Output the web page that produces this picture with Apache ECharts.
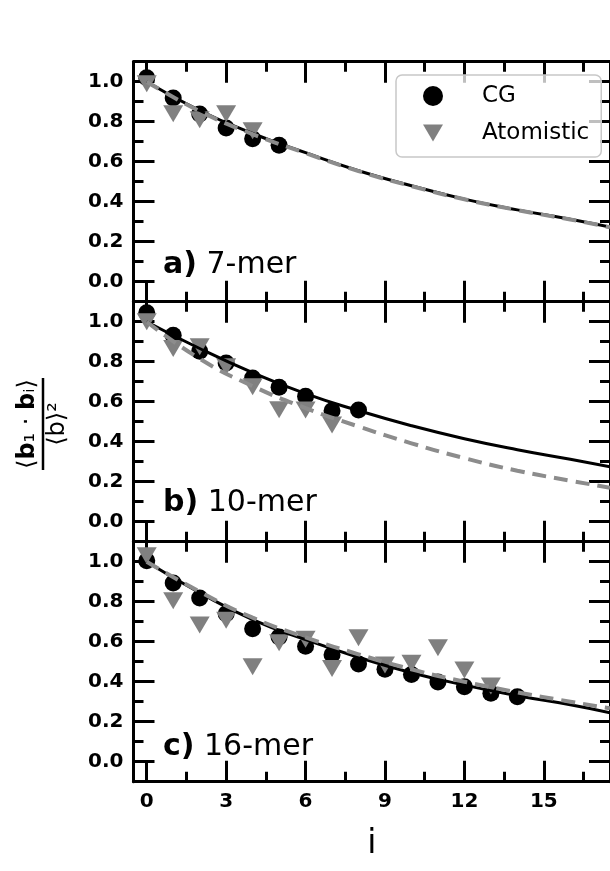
<!DOCTYPE html>
<html><head><meta charset="utf-8">
<script src="https://cdn.jsdelivr.net/npm/echarts@6/dist/echarts.min.js"></script>
<style>html,body{margin:0;padding:0;background:#fff}#c{width:610px;height:871px}</style>
</head><body><div id="c"></div>
<script>
// ---------- data ----------
const panelNames = ['7-mer', '10-mer', '16-mer'];
const panelTags = ['a)', 'b)', 'c)'];

const cg7 = [1.02, 0.918, 0.838, 0.768, 0.715, 0.682];
const at7 = [0.99, 0.84, 0.81, 0.84, 0.755];
const cg10 = [1.045, 0.932, 0.852, 0.793, 0.718, 0.672, 0.627, 0.555, 0.558];
const at10 = [1.0, 0.866, 0.875, 0.775, 0.675, 0.56, 0.558, 0.483];
const cg16 = [1.005, 0.893, 0.818, 0.74, 0.665, 0.624, 0.577, 0.535, 0.488, 0.462, 0.436, 0.398, 0.375, 0.342, 0.325];
const at16 = [1.03, 0.805, 0.683, 0.707, 0.475, 0.595, 0.612, 0.466, 0.62, 0.483, 0.492, 0.57, 0.458, 0.378];

const fitX = [0, 2, 4, 6, 8, 10, 12, 14, 16, 17.5];
const fit7CG = [1.0, 0.856, 0.741, 0.645, 0.555, 0.48, 0.413, 0.359, 0.312, 0.273];
const fit7AT = [1.0, 0.853, 0.738, 0.643, 0.553, 0.478, 0.412, 0.358, 0.311, 0.272];
const fit10CG = [1.0, 0.866, 0.745, 0.64, 0.555, 0.48, 0.415, 0.36, 0.312, 0.275];
const fit10AT = [1.0, 0.815, 0.678, 0.568, 0.476, 0.392, 0.318, 0.255, 0.205, 0.17];
const fit16CG = [1.0, 0.845, 0.71, 0.61, 0.522, 0.445, 0.383, 0.33, 0.285, 0.245];
const fit16AT = [1.0, 0.85, 0.72, 0.622, 0.537, 0.462, 0.40, 0.347, 0.30, 0.267];

const xTicks = [0, 3, 6, 9, 12, 15];
const xMinorTicks = [1.5, 4.5, 7.5, 10.5, 13.5, 16.5];
const yTicks = [0, 0.2, 0.4, 0.6, 0.8, 1.0];
const yMinorTicks = [0.1, 0.3, 0.5, 0.7, 0.9];

const cgSets = [cg7, cg10, cg16];
const atSets = [at7, at10, at16];
const fitCG = [fit7CG, fit10CG, fit16CG];
const fitAT = [fit7AT, fit10AT, fit16AT];

// ---------- layout / style ----------
const FONT = "'DejaVu Sans', sans-serif";
const GRID_LEFT = 133.5, GRID_W = 480, GRID_TOP = 61.7, GRID_H = 240;
const TRI = 'path://M0,0L20,0L10,17Z';
const GRAY = '#808080';

const toPairs = (xs, ys) => ys.map((y, i) => [xs[i], y]);
const idx = n => Array.from({length: n}, (_, i) => i);

const grids = [], xAxes = [], yAxes = [], series = [], graphics = [];
for (let g = 0; g < 6; g++) {
  const p = g % 3, minor = g >= 3;
  grids.push({left: GRID_LEFT, top: GRID_TOP + GRID_H * p, width: GRID_W, height: GRID_H});
  const tickLen = minor ? 10 : 21;
  const xt = minor ? xMinorTicks : xTicks;
  const yt = minor ? yMinorTicks : yTicks;
  ['bottom', 'top'].forEach(pos => {
    const showLab = !minor && p === 2 && pos === 'bottom';
    xAxes.push({
      type: 'value', gridIndex: g, position: pos, min: -0.5, max: 17.5,
      axisLine: {show: !minor, onZero: false, lineStyle: {color: '#000', width: 3}},
      axisTick: {show: true, inside: true, length: tickLen, customValues: xt, lineStyle: {color: '#000', width: 3}},
      axisLabel: {show: showLab, customValues: xt, margin: 10, color: '#000', fontFamily: FONT, fontWeight: 'bold', fontSize: 20},
      splitLine: {show: false},
      name: showLab ? 'i' : '', nameLocation: 'middle', nameGap: 46,
      nameTextStyle: {color: '#000', fontFamily: FONT, fontSize: 33}
    });
  });
  ['left', 'right'].forEach(pos => {
    const showLab = !minor && pos === 'left';
    yAxes.push({
      type: 'value', gridIndex: g, position: pos, min: -0.1, max: 1.1,
      axisLine: {show: !minor, onZero: false, lineStyle: {color: '#000', width: 3}},
      axisTick: {show: true, inside: true, length: tickLen, customValues: yt, lineStyle: {color: '#000', width: 3}},
      axisLabel: {show: showLab, customValues: yt, margin: 10, color: '#000', fontFamily: FONT, fontWeight: 'bold', fontSize: 20,
        formatter: v => v.toFixed(1)},
      splitLine: {show: false}
    });
  });
}

for (let p = 0; p < 3; p++) {
  const xi = 2 * p, yi = 2 * p;
  series.push({
    name: 'CG', type: 'scatter', xAxisIndex: xi, yAxisIndex: yi, z: 2,
    symbol: 'circle', symbolSize: 17, itemStyle: {color: '#000', opacity: 1},
    data: toPairs(idx(cgSets[p].length), cgSets[p])
  });
  series.push({
    name: 'Atomistic', type: 'scatter', xAxisIndex: xi, yAxisIndex: yi, z: 3,
    symbol: TRI, symbolSize: [20, 17], itemStyle: {color: GRAY, opacity: 1},
    data: toPairs(idx(atSets[p].length), atSets[p])
  });
  series.push({
    name: 'CG fit', type: 'line', xAxisIndex: xi, yAxisIndex: yi, z: 4,
    smooth: 0.5, showSymbol: false, symbol: 'none',
    lineStyle: {color: '#000', width: 3},
    data: toPairs(fitX, fitCG[p])
  });
  series.push({
    name: 'Atomistic fit', type: 'line', xAxisIndex: xi, yAxisIndex: yi, z: 5,
    smooth: 0.5, showSymbol: false, symbol: 'none',
    lineStyle: {color: '#8c8c8c', width: 4, type: [14, 8]},
    data: toPairs(fitX, fitAT[p])
  });
  graphics.push({
    type: 'text', x: 163, y: [265, 503, 747][p], z: 10,
    style: {
      text: '{b|' + panelTags[p] + '} ' + panelNames[p],
      fontFamily: FONT, fontSize: 30, fill: '#000', verticalAlign: 'middle',
      rich: {b: {fontFamily: FONT, fontSize: 30, fontWeight: 'bold', fill: '#000'}}
    }
  });
}

graphics.push({
  type: 'group', x: 43, y: 424, rotation: Math.PI / 2, z: 10,
  children: [
    {type: 'text', x: 0, y: -3, style: {
      text: '{n|⟨}{b|b}{n|₁ · }{b|b}{n|ᵢ⟩}', align: 'center', verticalAlign: 'bottom',
      rich: {n: {fontFamily: FONT, fontSize: 24, fill: '#000'}, b: {fontFamily: FONT, fontSize: 24, fontWeight: 'bold', fill: '#000'}}
    }},
    {type: 'line', shape: {x1: -46, y1: 0, x2: 46, y2: 0}, style: {stroke: '#000', lineWidth: 2.5}},
    {type: 'text', x: 0, y: 3, style: {
      text: '⟨b⟩²', align: 'center', verticalAlign: 'top', fontFamily: FONT, fontSize: 24, fill: '#000'
    }}
  ]
});

const chart = echarts.init(document.getElementById('c'), null, {renderer: 'canvas'});
chart.setOption({
  animation: false,
  backgroundColor: '#fff',
  grid: grids, xAxis: xAxes, yAxis: yAxes, series: series, graphic: graphics,
  legend: {
    data: [{name: 'CG', icon: 'circle'}, {name: 'Atomistic', icon: TRI}],
    orient: 'vertical', left: 396, top: 75, z: 20,
    padding: [9, 12, 12, 27], itemWidth: 20, itemHeight: 20, itemGap: 13,
    selectedMode: false,
    textStyle: {color: '#000', fontFamily: FONT, fontSize: 23, lineHeight: 24, padding: [0, 0, 0, 34]},
    borderColor: '#c8c8c8', borderWidth: 1.5, borderRadius: 6,
    backgroundColor: 'rgba(255,255,255,0.75)'
  }
});
</script>
</body></html>
